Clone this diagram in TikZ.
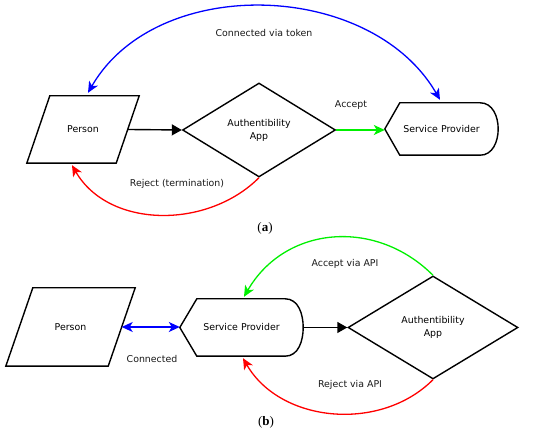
\documentclass[tikz,border=0pt]{standalone}
\usepackage{fontspec}
\setmainfont{DejaVu Sans}
\newfontfamily\capfont{Liberation Serif}
\usepackage{xcolor}
\usepackage{tikz}
\usetikzlibrary{arrows.meta,positioning,shapes.geometric}
\tikzset{
  person/.style = {rectangle, inner sep=0pt},
  check/.style = {diamond, draw, line width=1.4pt, inner sep=0pt, align=center},
  provider/.style = {rectangle, inner sep=0pt},
  outline/.style = {line width=1.4pt, line join=miter},
  flow/.style = {line width=1.4pt, -{Triangle[length=10pt,width=11pt]}},
  link/.style = {line width=1.3pt, -{Stealth[length=11pt,width=10pt,inset=3pt]}},
  twoway/.style = {line width=1.3pt, {Stealth[length=11pt,width=10pt,inset=3pt]}-{Stealth[length=11pt,width=10pt,inset=3pt]}},
  lbl/.style = {text=black!90},
}
\definecolor{lnkBlue}{HTML}{0000FF}
\definecolor{lnkGreen}{HTML}{00F000}
\definecolor{lnkRed}{HTML}{FF0000}

\begin{document}
\begin{tikzpicture}[x=1pt,y=1pt,font=\fontsize{9.4}{13}\selectfont]
  \useasboundingbox (0,0) rectangle (550,435);

  \node[person, minimum width=112, minimum height=67] (pa) at (83,305.5) {Person};
  \node[check, minimum width=153, minimum height=94] (da) at (259,305) {Authentibility\\App};
  \node[provider, minimum width=113, minimum height=52] (sa) at (441.5,306) {Service Provider};

  \node[person, minimum width=129, minimum height=78] (pb) at (70.5,108) {Person};
  \node[provider, minimum width=123, minimum height=57] (sb) at (241.5,107.5) {Service Provider};
  \node[check, minimum width=170, minimum height=103] (db) at (433,107.5) {Authentibility\\App};

  \foreach \n/\s in {pa/23,pb/27}{
    \draw[outline] (\n.south west) -- ([xshift=-\s]\n.south east) -- (\n.north east)
      -- ([xshift=\s]\n.north west) -- cycle;
  }
  \foreach \n/\c in {sa/15,sb/17}{
    \draw[outline] (\n.west) -- ([xshift=\c]\n.north west) -- ([xshift=-18]\n.north east)
      to[out=0,in=90] (\n.east) to[out=-90,in=0] ([xshift=-18]\n.south east)
      -- ([xshift=\c]\n.south west) -- cycle;
  }

  \draw[flow] ([xshift=-11]pa.east) -- (da.west);
  \draw[link, lnkGreen] (da.east) -- (da.east -| sa.west);
  \draw[twoway, lnkBlue] ([xshift=5,yshift=3]pa.north) to[out=60,in=120] ([xshift=-1.5,yshift=3]sa.north);
  \draw[link, lnkRed] (da.south) to[out=225,in=-60] ([xshift=-11,yshift=-2]pa.south);
  \node[lbl] (acca) at (351,330) {Accept};
  \node[lbl] (toka) at (264,402) {Connected via token};
  \node[lbl] (reja) at (177,251) {Reject (termination)};

  \draw[twoway, lnkBlue] ([xshift=-13.5]pb.east) -- (pb.east -| sb.west);
  \draw[flow] (sb.east) -- (db.west);
  \draw[link, lnkGreen] (db.north) to[out=135,in=60,looseness=1.1] ([xshift=2.5,yshift=2]sb.north);
  \draw[link, lnkRed] (db.south) to[out=225,in=-60] ([xshift=1.5,yshift=-2]sb.south);
  \node[lbl] (conb) at (152,76) {Connected};
  \node[lbl] (accb) at (345,171) {Accept via API};
  \node[lbl] (rejb) at (350,50) {Reject via API};

  \node[font=\capfont\fontsize{13}{15}\selectfont] (capa) at (265,207) {(\textbf{a})};
  \node[font=\capfont\fontsize{13}{15}\selectfont] (capb) at (266,13) {(\textbf{b})};
\end{tikzpicture}
\end{document}
